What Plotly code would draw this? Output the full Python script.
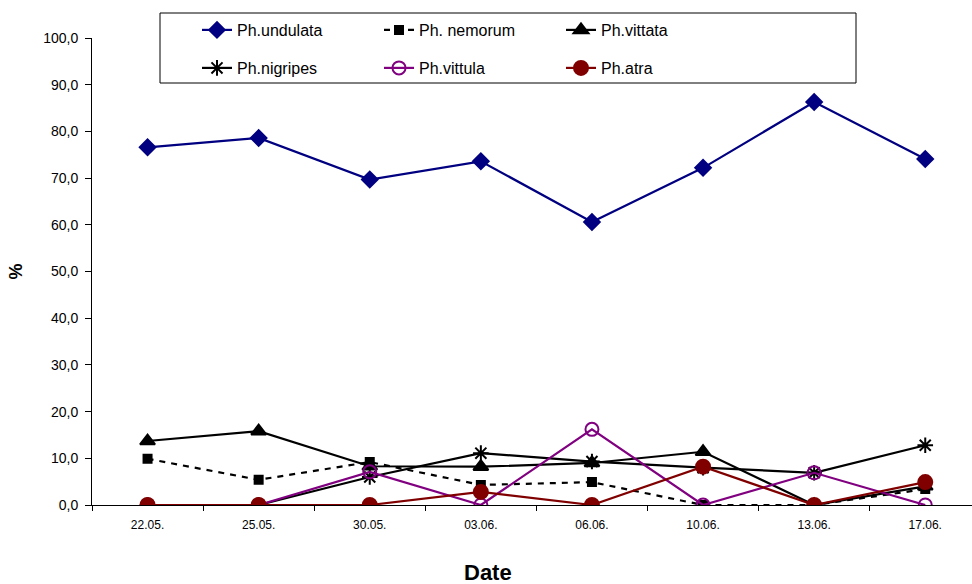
import plotly.graph_objects as go

dates = ["22.05.", "25.05.", "30.05.", "03.06.", "06.06.", "10.06.", "13.06.", "17.06."]
undulata = [76.6, 78.6, 69.7, 73.6, 60.6, 72.2, 86.3, 74.1]
nemorum = [9.9, 5.4, 9.2, 4.3, 4.9, 0.0, 0.0, 3.4]
vittata = [13.7, 15.8, 8.3, 8.2, 9.0, 11.4, 0.0, 4.0]
nigripes = [0.0, 0.0, 6.0, 11.1, 9.3, 8.0, 6.9, 12.8]
vittula = [0.0, 0.0, 7.1, 0.0, 16.2, 0.0, 6.9, 0.0]
atra = [0.0, 0.0, 0.0, 2.8, 0.0, 8.2, 0.0, 4.9]

names = ["Ph.undulata", "Ph. nemorum", "Ph.vittata", "Ph.nigripes", "Ph.vittula", "Ph.atra"]
series = [undulata, nemorum, vittata, nigripes, vittula, atra]
colors = ["#000080", "#000000", "#000000", "#000000", "#800080", "#800000"]
symbols = ["diamond", "square", "triangle-up", "asterisk-open", "circle-open", "circle"]
sizes = [12, 8, 13, 13, 13, 14]
dashes = ["solid", "6px,6px", "solid", "solid", "solid", "solid"]
legends = ["legend", "legend", "legend", "legend2", "legend2", "legend2"]

xi = list(range(len(dates)))

fig = go.Figure()
for name, ys, c, s, sz, d, lg in zip(names, series, colors, symbols, sizes, dashes, legends):
    fig.add_trace(go.Scatter(
        x=xi, y=ys, name=name, mode="lines+markers",
        line=dict(color=c, width=2.2, dash=d),
        marker=dict(symbol=s, size=sz, color=c, line=dict(color=c, width=2)),
        legend=lg,
    ))

lx = (197 - 92) / 880
leg_common = dict(
    orientation="h", xanchor="left", yanchor="middle",
    font=dict(family="Arial, Liberation Sans", size=16, color="black"),
    bgcolor="rgba(0,0,0,0)", borderwidth=0, entrywidth=137, entrywidthmode="pixels",
    tracegroupgap=0, itemclick=False,
)
fig.update_layout(
    width=972, height=584,
    margin=dict(l=92, r=0, t=38, b=79),
    paper_bgcolor="white", plot_bgcolor="white",
    separators=",.",
    font=dict(family="Arial, Liberation Sans", color="black"),
    showlegend=True,
    legend=dict(x=lx, y=(505 - 30) / 467, **leg_common),
    legend2=dict(x=lx, y=(505 - 68) / 467, **leg_common),
    xaxis=dict(
        range=[-0.5, -0.5 + 880 / 111.1],
        tickmode="array", tickvals=xi, ticktext=dates, ticks="",
        tickfont=dict(size=12), ticklabelstandoff=9, showgrid=False, zeroline=False,
        showline=True, linecolor="black", linewidth=1,
        minor=dict(tickmode="linear", tick0=-0.5, dtick=1, ticks="outside",
                   ticklen=5, tickcolor="black", showgrid=False),
    ),
    yaxis=dict(
        range=[0, 100], tickmode="linear", tick0=0, dtick=10, tickformat=".1f",
        ticks="outside", ticklen=6, tickcolor="black", ticklabelstandoff=4,
        tickfont=dict(size=14), showgrid=False, zeroline=False,
        showline=True, linecolor="black", linewidth=1,
        title=dict(text="<b>%</b>", font=dict(size=18), standoff=15),
    ),
    shapes=[dict(type="rect", xref="paper", yref="paper",
                 x0=(160 - 92) / 880, x1=(856 - 92) / 880,
                 y0=(505 - 83) / 467, y1=(505 - 13) / 467,
                 line=dict(color="black", width=1), fillcolor="white", layer="below")],
    annotations=[dict(text="<b>Date</b>", xref="paper", yref="paper",
                      x=(488 - 92) / 880, y=(505 - 572) / 467, showarrow=False,
                      font=dict(size=22), xanchor="center", yanchor="middle")],
)

fig.write_html("out.html")
